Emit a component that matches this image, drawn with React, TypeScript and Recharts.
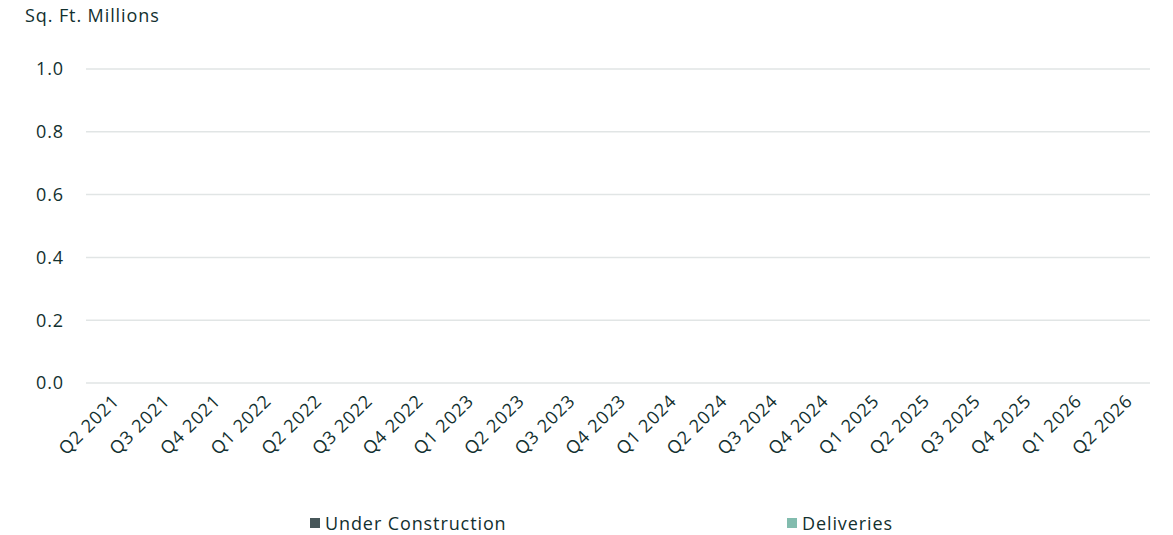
import React from "react";
import { BarChart, Bar, XAxis, YAxis, CartesianGrid, Legend } from "recharts";

const quarters = [
  "Q2 2021", "Q3 2021", "Q4 2021",
  "Q1 2022", "Q2 2022", "Q3 2022", "Q4 2022",
  "Q1 2023", "Q2 2023", "Q3 2023", "Q4 2023",
  "Q1 2024", "Q2 2024", "Q3 2024", "Q4 2024",
  "Q1 2025", "Q2 2025", "Q3 2025", "Q4 2025",
  "Q1 2026", "Q2 2026",
];
const underConstruction = [0, 0, 0, 0, 0, 0, 0, 0, 0, 0, 0, 0, 0, 0, 0, 0, 0, 0, 0, 0, 0];
const deliveries = [0, 0, 0, 0, 0, 0, 0, 0, 0, 0, 0, 0, 0, 0, 0, 0, 0, 0, 0, 0, 0];
const yTicks = [0, 0.2, 0.4, 0.6, 0.8, 1.0];

const seriesNames = ["Under Construction", "Deliveries"];
const seriesColors = ["#47575a", "#82bcae"];

const data = quarters.map((q, i) => ({
  quarter: q,
  underConstruction: underConstruction[i],
  deliveries: deliveries[i],
}));

const textColor = "#12302f";
const font = "'Open Sans', sans-serif";
const fontSize = 18;
const spacing = 0.9;

// legend items sit at fixed x positions like the original export
const legendLeft = [310, 787];

function LegendContent() {
  return (
    <div style={{ position: "relative", height: 24, fontFamily: font, fontSize, letterSpacing: spacing, color: textColor }}>
      {seriesNames.map((name, i) => (
        <div
          key={name}
          style={{ position: "absolute", left: legendLeft[i], top: 0, display: "flex", alignItems: "center", whiteSpace: "nowrap" }}
        >
          <span style={{ width: 10, height: 10, background: seriesColors[i], marginRight: 5, display: "inline-block" }} />
          {name}
        </div>
      ))}
    </div>
  );
}

export default function App() {
  return (
    <div style={{ position: "fixed", left: 0, top: 0, width: 1173, height: 535, background: "#fff" }}>
      <div style={{ position: "absolute", left: 25, top: 3, fontFamily: font, fontSize, letterSpacing: spacing, color: textColor }}>
        Sq. Ft. Millions
      </div>
      <BarChart width={1173} height={535} data={data} margin={{ top: 69, right: 23, left: 0, bottom: 0 }}>
        <CartesianGrid vertical={false} stroke="#e1e5e5" strokeWidth={1.5} />
        <XAxis
          dataKey="quarter"
          interval={0}
          angle={-45}
          textAnchor="end"
          axisLine={false}
          tickLine={false}
          tickSize={0}
          tickMargin={10}
          height={128}
          tick={{ fill: textColor, fontSize, fontFamily: font, letterSpacing: spacing }}
        />
        <YAxis
          domain={[0, 1]}
          ticks={yTicks}
          tickFormatter={(v: number) => v.toFixed(1)}
          axisLine={false}
          tickLine={false}
          tickSize={0}
          tickMargin={22}
          width={86}
          tick={{ fill: textColor, fontSize, fontFamily: font, letterSpacing: spacing }}
        />
        <Legend verticalAlign="bottom" content={<LegendContent />} />
        <Bar dataKey="underConstruction" name={seriesNames[0]} fill={seriesColors[0]} isAnimationActive={false} />
        <Bar dataKey="deliveries" name={seriesNames[1]} fill={seriesColors[1]} isAnimationActive={false} />
      </BarChart>
    </div>
  );
}
